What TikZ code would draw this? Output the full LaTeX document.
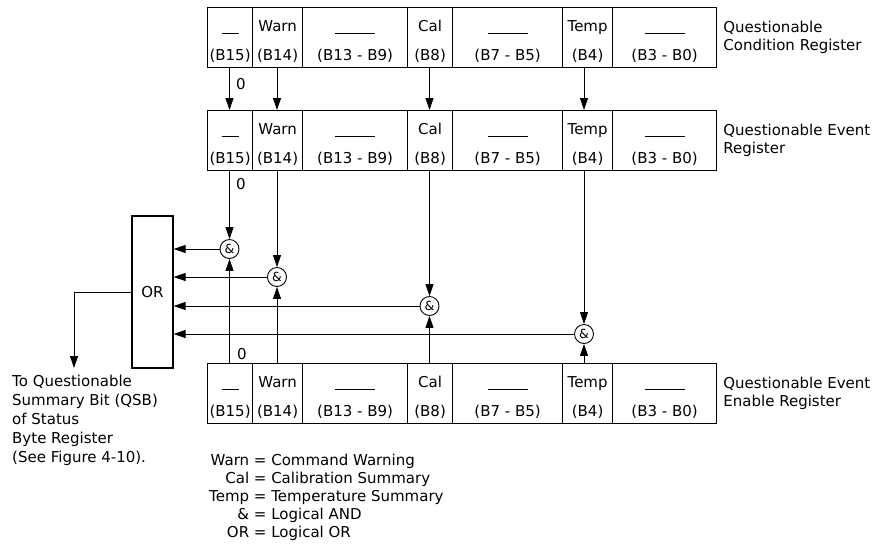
\documentclass[tikz,border=0pt]{standalone}
\usepackage{fontspec}
\setmainfont{DejaVu Sans}
\usetikzlibrary{arrows.meta,positioning,calc}

\newcommand{\blankbar}[1]{\rule[-3pt]{#1pt}{0.9pt}}

\begin{document}
\begin{tikzpicture}[x=1pt,y=-1pt,
  font=\fontsize{15}{18}\selectfont,
  bitcell/.style={draw,line width=1.2pt,minimum height=60pt,inner sep=0pt,anchor=north west,align=center},
  andgate/.style={draw,circle,line width=0.9pt,minimum size=19pt,inner sep=0pt,font=\fontsize{12.5}{12}\selectfont},
  sig/.style={line width=0.9pt},
  arr/.style={sig,-{Triangle[length=12pt,width=8pt]}},
  reglabel/.style={align=left,inner sep=0pt}]
  \useasboundingbox (0,0) rectangle (882,550);

  % Registers
  \foreach \r/\y in {cond/7, event/110, enable/363} {
    \foreach \n/\x/\w/\t/\b in {b15/207/45/{\blankbar{17}}/B15, b14/252/50/Warn/B14,
        b139/302/105/{\blankbar{40}}/{B13 - B9}, b8/407/45/Cal/B8,
        b75/452/110/{\blankbar{40}}/{B7 - B5}, b4/562/50/Temp/B4,
        b30/612/104/{\blankbar{40}}/{B3 - B0}}
      \node[bitcell,minimum width=\w pt] (\r\n) at (\x,\y) {\rule{0pt}{18pt}\t\\[11pt](\b)};
  }
  \node[reglabel,right=6pt of condb30] (condlbl) {Questionable\\Condition Register};
  \node[reglabel,right=6pt of eventb30] (eventlbl) {Questionable Event\\Register};
  \node[reglabel,right=6pt of enableb30] (enablelbl) {Questionable Event\\Enable Register};

  % AND gates and OR box
  \node[andgate] (g15) at (229.5,249) {\&};
  \node[andgate] (g14) at (277,277) {\&};
  \node[andgate] (g8) at (429.5,306) {\&};
  \node[andgate] (g4) at (584,334) {\&};
  \node[draw,line width=1.2pt,minimum width=41pt,minimum height=152pt] (orbox) at (152.5,292) {OR};

  % Signal paths
  \foreach \g/\b in {g15/b15, g14/b14, g8/b8, g4/b4} {
    \draw[arr] (cond\b.south -| \g) -- (event\b.north -| \g);
    \draw[arr] (event\b.south -| \g) -- (\g);
    \draw[arr] (enable\b.north -| \g) -- (\g);
    \draw[arr] (\g) -- (\g -| orbox.east);
  }
  \node (zero1) at (241,84) {0};
  \node (zero2) at (241,184) {0};
  \node (zero3) at (242,354) {0};

  % Summary output
  \coordinate (qsb) at (74,368);
  \draw[arr] (orbox.west) -| (qsb);
  \node[anchor=north west,align=left,inner sep=0pt,font=\fontsize{15}{19}\selectfont] (qsbtext) at (12,375)
    {To Questionable\\Summary Bit (QSB)\\of Status\\Byte Register\\(See Figure 4-10).};

  % Legend
  \node[anchor=north west,inner sep=0pt] (legend) at (209,453) {%
    \begin{tabular}{@{}r@{ = }l@{}}
      Warn & Command Warning\\
      Cal & Calibration Summary\\
      Temp & Temperature Summary\\
      \& & Logical AND\\
      OR & Logical OR
    \end{tabular}};
\end{tikzpicture}
\end{document}
